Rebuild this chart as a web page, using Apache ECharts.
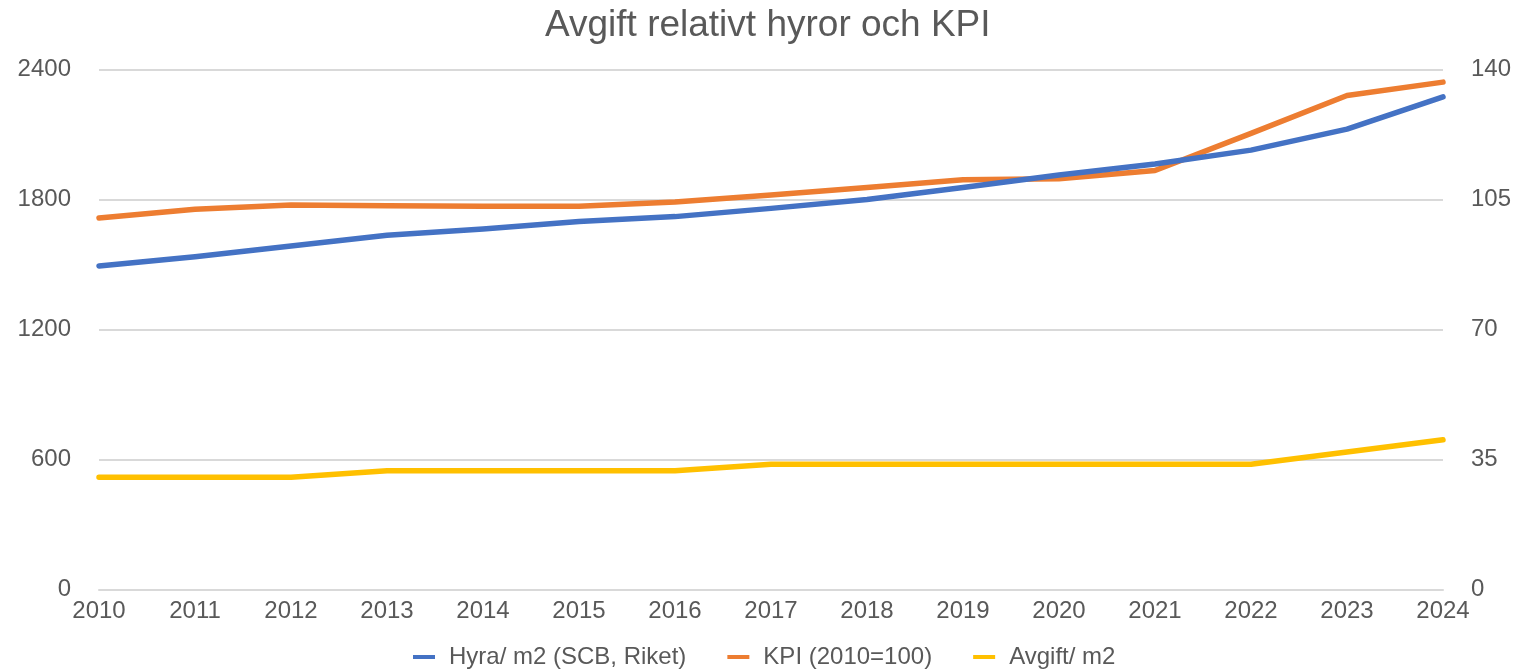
<!DOCTYPE html>
<html>
<head>
<meta charset="utf-8">
<script src="https://cdn.jsdelivr.net/npm/echarts@6/dist/echarts.min.js"></script>
<style>
html,body{margin:0;padding:0;background:#fff;}
#chart{width:1517px;height:670px;}
</style>
</head>
<body>
<div id="chart"></div>
<script>
const years = ['2010','2011','2012','2013','2014','2015','2016','2017','2018','2019','2020','2021','2022','2023','2024'];
const hyra = [1493,1536,1585,1635,1664,1698,1721,1759,1800,1855,1913,1964,2028,2125,2274];
const kpi = [100,102.4,103.5,103.3,103.2,103.2,104.3,106.2,108.2,110.3,110.6,112.8,122.8,133.0,136.6];
const avgift = [518,518,518,548,548,548,548,578,578,578,578,578,578,635,691];
const leftTicks = [0,600,1200,1800,2400];
const rightTicks = [0,35,70,105,140];

const font = '"Liberation Sans", Arial, sans-serif';
const txt = '#595959';
const chart = echarts.init(document.getElementById('chart'), null, {renderer:'canvas'});
chart.setOption({
  animation:false,
  backgroundColor:'#fff',
  title:{
    text:'Avgift relativt hyror och KPI',
    left:540, top:2,
    textStyle:{fontFamily:font,fontSize:37,fontWeight:'normal',color:txt}
  },
  legend:{
    top:645, left:413, padding:0,
    icon:'rect', itemWidth:22, itemHeight:4, itemGap:41,
    textStyle:{fontFamily:font,fontSize:24,color:txt,padding:[0,0,0,9]},
    data:['Hyra/ m2 (SCB, Riket)','KPI (2010=100)','Avgift/ m2']
  },
  grid:{left:99,right:74,top:69.5,bottom:80.5,containLabel:false},
  xAxis:{
    type:'category', data:years, boundaryGap:false,
    axisLine:{lineStyle:{color:'#D9D9D9',width:2}},
    axisTick:{show:false},
    axisLabel:{fontFamily:font,fontSize:24,color:txt,margin:10}
  },
  yAxis:[
    {type:'value',min:leftTicks[0],max:leftTicks[leftTicks.length-1],interval:600,
     axisLine:{show:false},axisTick:{show:false},
     splitLine:{lineStyle:{color:'#D9D9D9',width:2}},
     axisLabel:{fontFamily:font,fontSize:24,color:txt,margin:28,formatter:v=>String(v)}},
    {type:'value',min:rightTicks[0],max:rightTicks[rightTicks.length-1],interval:35,
     axisLine:{show:false},axisTick:{show:false},splitLine:{show:false},
     axisLabel:{fontFamily:font,fontSize:24,color:txt,margin:28,formatter:v=>String(v)}}
  ],
  series:[
    {name:'Hyra/ m2 (SCB, Riket)',type:'line',data:hyra,yAxisIndex:0,showSymbol:false,
     lineStyle:{color:'#4472C4',width:5.5,cap:'round',join:'round'},itemStyle:{color:'#4472C4'},z:3},
    {name:'KPI (2010=100)',type:'line',data:kpi,yAxisIndex:1,showSymbol:false,
     lineStyle:{color:'#ED7D31',width:5.5,cap:'round',join:'round'},itemStyle:{color:'#ED7D31'},z:2},
    {name:'Avgift/ m2',type:'line',data:avgift,yAxisIndex:0,showSymbol:false,
     lineStyle:{color:'#FFC000',width:5.5,cap:'round',join:'round'},itemStyle:{color:'#FFC000'},z:1}
  ]
});
</script>
</body>
</html>
